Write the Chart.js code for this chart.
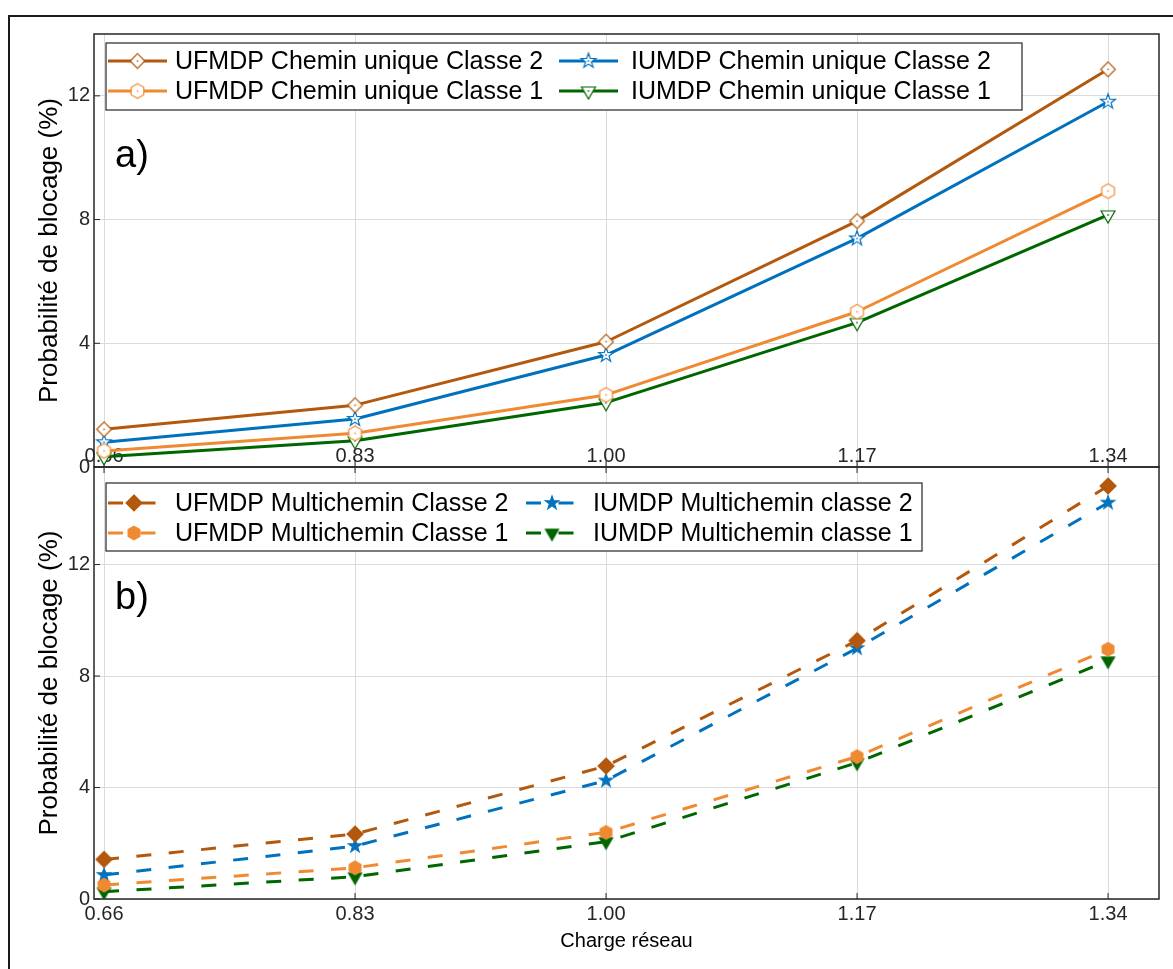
<!DOCTYPE html>
<html>
<head>
<meta charset="utf-8">
<script src="https://cdn.jsdelivr.net/npm/chart.js@4.4.0/dist/chart.umd.min.js"></script>
<style>
  body { margin: 0; background: #fff; overflow: hidden; }
  #wrap { position: relative; width: 1173px; height: 969px; overflow: hidden; }
  #outer { position: absolute; left: 8px; top: 15px; width: 1200px; height: 1000px; border: 2px solid #1a1a1a; box-sizing: border-box; }
  canvas { position: absolute; left: 0; }
  #chartA { top: 0; }
  #chartB { top: 460px; }
</style>
</head>
<body>
<div id="wrap">
  <div id="outer"></div>
  <canvas id="chartA" width="1173" height="480"></canvas>
  <canvas id="chartB" width="1173" height="509"></canvas>
</div>
<script>
// data

const chargeValues = [0.66, 0.83, 1.00, 1.17, 1.34];
const xTicks = [0.66, 0.83, 1.00, 1.17, 1.34];
const yTicks = [0, 4, 8, 12];

// a) chemin unique
const ufUniqueC2 = [1.22, 2.00, 4.05, 7.95, 12.86];
const ufUniqueC1 = [0.52, 1.09, 2.33, 5.02, 8.92];
const iuUniqueC2 = [0.80, 1.55, 3.62, 7.39, 11.81];
const iuUniqueC1 = [0.33, 0.85, 2.08, 4.67, 8.15];

// b) multichemin
const ufMultiC2 = [1.42, 2.33, 4.77, 9.27, 14.82];
const ufMultiC1 = [0.50, 1.12, 2.39, 5.11, 8.96];
const iuMultiC2 = [0.86, 1.90, 4.25, 9.00, 14.22];
const iuMultiC1 = [0.26, 0.80, 2.06, 4.89, 8.55];

const labelsUnique = [
  'UFMDP Chemin unique Classe 2',
  'UFMDP Chemin unique Classe 1',
  'IUMDP Chemin unique Classe 2',
  'IUMDP Chemin unique Classe 1'
];
const labelsMulti = [
  'UFMDP Multichemin Classe 2',
  'UFMDP Multichemin Classe 1',
  'IUMDP Multichemin classe 2',
  'IUMDP Multichemin classe 1'
];

const X_MIN = 0.6532, X_MAX = 1.3745;

const COL_UF2 = '#b3580c';
const COL_UF1 = '#f08a32';
const COL_IU2 = '#0072bd';
const COL_IU1 = '#006600';

const FONT = '"Liberation Sans", Arial, sans-serif';

// marker images (MATLAB-like shapes)
function marker(shape, color, r, filled) {
  const c = document.createElement('canvas');
  const s = Math.ceil(r * 2 + 4);
  c.width = s; c.height = s;
  const g = c.getContext('2d');
  g.translate(s / 2, s / 2);
  g.beginPath();
  if (shape === 'diamond') {
    g.moveTo(0, -r); g.lineTo(r, 0); g.lineTo(0, r); g.lineTo(-r, 0);
  } else if (shape === 'star') {
    for (let i = 0; i < 10; i++) {
      const a = -Math.PI / 2 + i * Math.PI / 5;
      const rr = i % 2 ? r * 0.4 : r;
      g.lineTo(rr * Math.cos(a), rr * Math.sin(a));
    }
  } else if (shape === 'hexagon') {
    for (let i = 0; i < 6; i++) {
      const a = -Math.PI / 2 + i * Math.PI / 3;
      g.lineTo(r * Math.cos(a), r * Math.sin(a));
    }
  } else if (shape === 'triangle') {
    g.moveTo(-r * 0.87, -r * 0.5); g.lineTo(r * 0.87, -r * 0.5); g.lineTo(0, r);
  }
  g.closePath();
  g.fillStyle = filled ? color : '#fff';
  g.fill();
  g.lineWidth = 1.2;
  g.strokeStyle = color;
  g.stroke();
  if (!filled) {
    g.fillStyle = color;
    g.fillRect(-0.75, -0.75, 1.5, 1.5);
  }
  return c;
}

function toPoints(arr) {
  return arr.map((v, i) => ({ x: chargeValues[i], y: v }));
}

function makeDataset(label, values, color, style, dashed) {
  return {
    label: label,
    data: toPoints(values),
    borderColor: color,
    backgroundColor: color,
    borderWidth: 3,
    borderDash: dashed ? [15, 17.5] : [],
    borderJoinStyle: 'round',
    pointStyle: style,
    pointRadius: 7,
    tension: 0,
    fill: false
  };
}

// no extra room for overhanging tick labels
function noPadding(s) {
  s.paddingTop = 0; s.paddingBottom = 0; s.paddingLeft = 0; s.paddingRight = 0;
}

// frame, inward ticks, legend and panel label
const framePlugin = {
  id: 'frame',
  beforeDatasetsDraw(chart, args, opts) {
    const { ctx, chartArea: a } = chart;
    const xs = chart.scales.x, ys = chart.scales.y;
    ctx.save();
    ctx.strokeStyle = '#262626';
    ctx.lineWidth = 1.5;
    ctx.strokeRect(a.left, a.top, a.right - a.left, a.bottom - a.top);
    ctx.lineWidth = 1;
    ctx.beginPath();
    xTicks.forEach(v => {
      const px = xs.getPixelForValue(v);
      ctx.moveTo(px, a.bottom); ctx.lineTo(px, a.bottom - 6);
      if (opts.topTicks) { ctx.moveTo(px, a.top); ctx.lineTo(px, a.top + 6); }
    });
    yTicks.forEach(v => {
      const py = ys.getPixelForValue(v);
      ctx.moveTo(a.left, py); ctx.lineTo(a.left + 6, py);
    });
    ctx.stroke();
    ctx.restore();
  },
  afterDraw(chart, args, opts) {
    const { ctx } = chart;
    const lg = opts.legend;
    ctx.save();
    ctx.fillStyle = '#fff';
    ctx.fillRect(lg.box[0], lg.box[1], lg.box[2], lg.box[3]);
    ctx.strokeStyle = '#262626';
    ctx.lineWidth = 1.2;
    ctx.strokeRect(lg.box[0], lg.box[1], lg.box[2], lg.box[3]);
    ctx.font = '25px ' + FONT;
    ctx.textBaseline = 'middle';
    chart.data.datasets.forEach((ds, i) => {
      const col = lg.cols[Math.floor(i / 2)];
      const y = lg.rows[i % 2];
      ctx.save();
      ctx.strokeStyle = ds.borderColor;
      ctx.lineWidth = ds.borderWidth;
      ctx.setLineDash(ds.borderDash);
      ctx.beginPath();
      ctx.moveTo(col.x0, y); ctx.lineTo(col.x1, y);
      ctx.stroke();
      ctx.restore();
      const m = ds.pointStyle;
      ctx.drawImage(m, (col.x0 + col.x1) / 2 - m.width / 2, y - m.height / 2);
      ctx.fillStyle = '#000';
      ctx.fillText(ds.label, col.tx, y + 1);
    });
    // panel label
    ctx.font = '38px ' + FONT;
    ctx.textBaseline = 'alphabetic';
    ctx.fillStyle = '#000';
    ctx.fillText(opts.panel.text, opts.panel.x, opts.panel.y);
    ctx.restore();
  }
};

const tickFont = { family: FONT, size: 20 };

function makeOptions(cfg) {
  return {
    responsive: false,
    animation: false,
    layout: { padding: cfg.padding, autoPadding: false },
    plugins: {
      legend: { display: false },
      tooltip: { enabled: false },
      frame: cfg.frame
    },
    scales: {
      x: {
        type: 'linear',
        min: X_MIN,
        max: X_MAX,
        afterBuildTicks: s => { s.ticks = xTicks.map(v => ({ value: v })); },
        afterFit: s => { s.height = cfg.xHeight; noPadding(s); },
        grid: { color: '#dadada', lineWidth: 1, drawTicks: false },
        border: { display: false },
        ticks: {
          autoSkip: false, maxRotation: 0, padding: cfg.xPad, mirror: cfg.xMirror,
          color: '#262626', font: tickFont,
          callback: v => Number(v).toFixed(2)
        },
        title: cfg.xTitle
      },
      y: {
        type: 'linear',
        min: 0,
        max: cfg.yMax,
        afterBuildTicks: s => { s.ticks = yTicks.map(v => ({ value: v })); },
        afterFit: s => { s.width = 94; noPadding(s); },
        grid: { color: '#dadada', lineWidth: 1, drawTicks: false },
        border: { display: false },
        ticks: { padding: 4, color: '#262626', font: tickFont },
        title: {
          display: true,
          text: 'Probabilité de blocage (%)',
          color: '#000',
          font: { family: FONT, size: 26 },
          padding: { top: 34, bottom: 0 }
        }
      }
    }
  };
}

// a) chemin unique
new Chart(document.getElementById('chartA'), {
  type: 'line',
  data: {
    datasets: [
      makeDataset(labelsUnique[0], ufUniqueC2, COL_UF2, marker('diamond', COL_UF2, 7.3, false), false),
      makeDataset(labelsUnique[1], ufUniqueC1, COL_UF1, marker('hexagon', COL_UF1, 7.3, false), false),
      makeDataset(labelsUnique[2], iuUniqueC2, COL_IU2, marker('star', COL_IU2, 7.8, false), false),
      makeDataset(labelsUnique[3], iuUniqueC1, COL_IU1, marker('triangle', COL_IU1, 8, false), false)
    ]
  },
  options: makeOptions({
    padding: { left: 0, right: 14, top: 34, bottom: 0 },
    xHeight: 13,
    xPad: -1.5,
    xMirror: true,
    xTitle: { display: false },
    yMax: 14,
    frame: {
      topTicks: false,
      legend: {
        box: [106, 43, 916, 67],
        rows: [61, 91],
        cols: [{ x0: 108, x1: 167, tx: 175 }, { x0: 559, x1: 618, tx: 631 }]
      },
      panel: { text: 'a)', x: 115, y: 167 }
    }
  }),
  plugins: [framePlugin]
});

// b) multichemin
new Chart(document.getElementById('chartB'), {
  type: 'line',
  data: {
    datasets: [
      makeDataset(labelsMulti[0], ufMultiC2, COL_UF2, marker('diamond', COL_UF2, 8, true), true),
      makeDataset(labelsMulti[1], ufMultiC1, COL_UF1, marker('hexagon', COL_UF1, 6.8, true), true),
      makeDataset(labelsMulti[2], iuMultiC2, COL_IU2, marker('star', COL_IU2, 7, true), true),
      makeDataset(labelsMulti[3], iuMultiC1, COL_IU1, marker('triangle', COL_IU1, 7.5, true), true)
    ]
  },
  options: makeOptions({
    padding: { left: 0, right: 14, top: 7, bottom: 0 },
    xHeight: 70,
    xPad: 3.5,
    xMirror: false,
    xTitle: {
      display: true,
      text: 'Charge réseau',
      color: '#000',
      font: { family: FONT, size: 20 },
      padding: { top: 0, bottom: 16 }
    },
    yMax: 15.5,
    frame: {
      topTicks: true,
      legend: {
        box: [106, 23, 816, 68],
        rows: [43, 73],
        cols: [{ x0: 108, x1: 160, tx: 175 }, { x0: 526, x1: 578, tx: 593 }]
      },
      panel: { text: 'b)', x: 115, y: 149 }
    }
  }),
  plugins: [framePlugin]
});
</script>
</body>
</html>
